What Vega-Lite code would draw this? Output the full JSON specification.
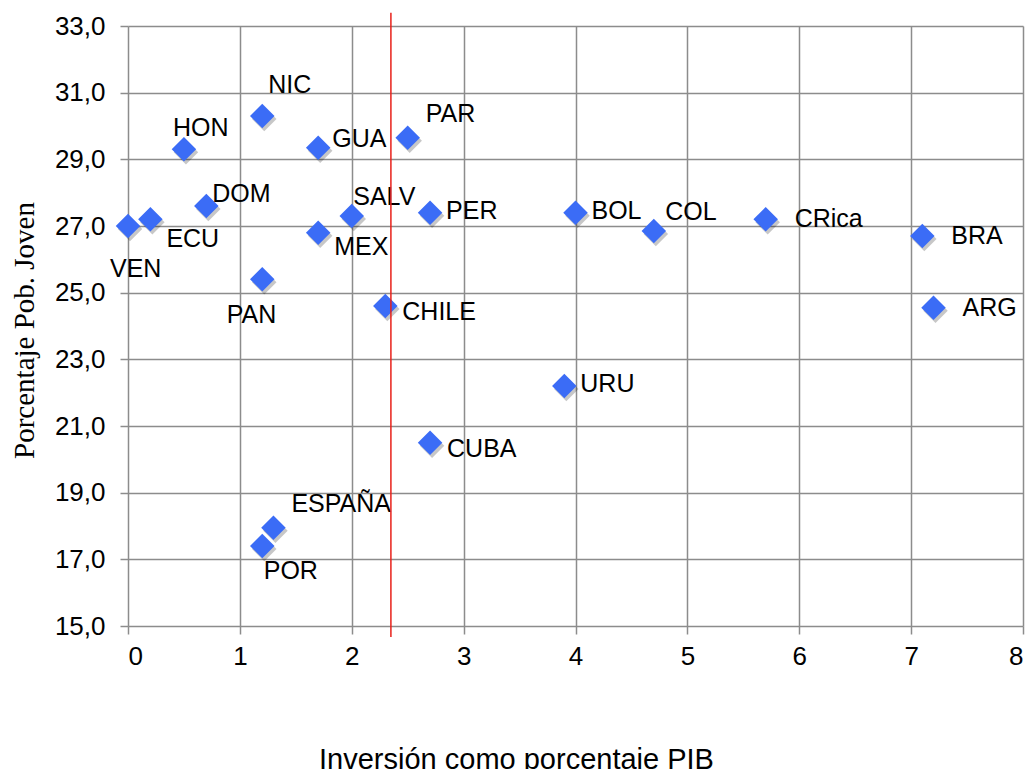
{
  "$schema": "https://vega.github.io/schema/vega-lite/v6.json",
  "width": 895,
  "height": 600,
  "autosize": {"type": "none"},
  "padding": {"left": 128, "top": 26, "right": 11, "bottom": 143},
  "background": "white",
  "config": {
    "view": {"stroke": null},
    "font": "Liberation Sans",
    "axis": {
      "gridColor": "#8c8c8c",
      "gridWidth": 1.5,
      "gridOpacity": 1,
      "domain": false,
      "tickColor": "#8c8c8c",
      "tickWidth": 1.5,
      "tickSize": 8,
      "labelFont": "Liberation Sans",
      "labelFontSize": 26,
      "labelColor": "#000000",
      "titleColor": "#000000",
      "titleFontWeight": "normal"
    }
  },
  "datasets": {
    "paises": [
      {"pais": "VEN", "inversion": 0.0, "joven": 27.0},
      {"pais": "ECU", "inversion": 0.2, "joven": 27.2},
      {"pais": "HON", "inversion": 0.5, "joven": 29.3},
      {"pais": "DOM", "inversion": 0.7, "joven": 27.6},
      {"pais": "NIC", "inversion": 1.2, "joven": 30.3},
      {"pais": "PAN", "inversion": 1.2, "joven": 25.4},
      {"pais": "GUA", "inversion": 1.7, "joven": 29.35},
      {"pais": "MEX", "inversion": 1.7, "joven": 26.8},
      {"pais": "SALV", "inversion": 2.0, "joven": 27.3},
      {"pais": "CHILE", "inversion": 2.3, "joven": 24.6},
      {"pais": "PAR", "inversion": 2.5, "joven": 29.65},
      {"pais": "PER", "inversion": 2.7, "joven": 27.4},
      {"pais": "BOL", "inversion": 4.0, "joven": 27.4},
      {"pais": "COL", "inversion": 4.7, "joven": 26.85},
      {"pais": "CRica", "inversion": 5.7, "joven": 27.2},
      {"pais": "BRA", "inversion": 7.1, "joven": 26.7},
      {"pais": "ARG", "inversion": 7.2, "joven": 24.55},
      {"pais": "URU", "inversion": 3.9, "joven": 22.2},
      {"pais": "CUBA", "inversion": 2.7, "joven": 20.5},
      {"pais": "ESPAÑA", "inversion": 1.3, "joven": 17.95},
      {"pais": "POR", "inversion": 1.2, "joven": 17.4}
    ],
    "referencia": [
      {"inversion": 2.35, "desde": 33.4, "hasta": 14.67}
    ]
  },
  "data": {"name": "paises"},
  "encoding": {
    "x": {
      "field": "inversion",
      "type": "quantitative",
      "scale": {"domain": [0, 8], "nice": false, "zero": false},
      "axis": {
        "values": [0, 1, 2, 3, 4, 5, 6, 7, 8],
        "title": "Inversión como porcentaje PIB",
        "titleFont": "Liberation Sans",
        "titleFontSize": 29,
        "titleX": 388,
        "titleY": 142,
        "titleAnchor": null,
        "titleAlign": "center",
        "titleBaseline": "alphabetic",
        "labelPadding": 9
      }
    },
    "y": {
      "field": "joven",
      "type": "quantitative",
      "scale": {"domain": [15, 33], "nice": false, "zero": false},
      "axis": {
        "values": [15, 17, 19, 21, 23, 25, 27, 29, 31, 33],
        "labelExpr": "replace(format(datum.value, '.1f'), '.', ',')",
        "labelPadding": 15,
        "title": "Porcentaje Pob. Joven",
        "titleFont": "Liberation Serif",
        "titleFontSize": 29,
        "titleX": -104,
        "titleY": 304,
        "titleAngle": -90,
        "titleAlign": "center",
        "titleBaseline": "middle"
      }
    }
  },
  "layer": [
    {
      "mark": {"type": "point", "shape": "diamond", "filled": true, "size": 600, "color": "#000000", "opacity": 0.22, "xOffset": 2, "yOffset": 3}
    },
    {
      "mark": {"type": "point", "shape": "diamond", "filled": true, "size": 600, "color": "#3b6cf6", "opacity": 1}
    },
    {
      "transform": [{"filter": {"field": "pais", "oneOf": ["PER", "BOL", "URU"]}}],
      "mark": {"type": "text", "align": "left", "baseline": "middle", "fontSize": 25, "color": "#000000", "dx": 16, "dy": -2},
      "encoding": {"text": {"field": "pais"}}
    },
    {
      "transform": [{"filter": {"field": "pais", "oneOf": ["CUBA", "CHILE"]}}],
      "mark": {"type": "text", "align": "left", "baseline": "middle", "fontSize": 25, "color": "#000000", "dx": 17, "dy": 6},
      "encoding": {"text": {"field": "pais"}}
    },
    {
      "transform": [{"filter": {"field": "pais", "oneOf": ["CRica", "BRA", "ARG"]}}],
      "mark": {"type": "text", "align": "left", "baseline": "middle", "fontSize": 25, "color": "#000000", "dx": 29, "dy": 0},
      "encoding": {"text": {"field": "pais"}}
    },
    {
      "transform": [{"filter": {"field": "pais", "oneOf": ["PAR", "ESPAÑA"]}}],
      "mark": {"type": "text", "align": "left", "baseline": "middle", "fontSize": 25, "color": "#000000", "dx": 18, "dy": -23.5},
      "encoding": {"text": {"field": "pais"}}
    },
    {
      "transform": [{"filter": {"field": "pais", "equal": "VEN"}}],
      "mark": {"type": "text", "align": "left", "baseline": "middle", "fontSize": 25, "color": "#000000", "dx": -18, "dy": 43},
      "encoding": {"text": {"field": "pais"}}
    },
    {
      "transform": [{"filter": {"field": "pais", "equal": "ECU"}}],
      "mark": {"type": "text", "align": "left", "baseline": "middle", "fontSize": 25, "color": "#000000", "dx": 16, "dy": 20},
      "encoding": {"text": {"field": "pais"}}
    },
    {
      "transform": [{"filter": {"field": "pais", "equal": "HON"}}],
      "mark": {"type": "text", "align": "left", "baseline": "middle", "fontSize": 25, "color": "#000000", "dx": -11, "dy": -21},
      "encoding": {"text": {"field": "pais"}}
    },
    {
      "transform": [{"filter": {"field": "pais", "equal": "DOM"}}],
      "mark": {"type": "text", "align": "left", "baseline": "middle", "fontSize": 25, "color": "#000000", "dx": 6, "dy": -12.5},
      "encoding": {"text": {"field": "pais"}}
    },
    {
      "transform": [{"filter": {"field": "pais", "equal": "NIC"}}],
      "mark": {"type": "text", "align": "left", "baseline": "middle", "fontSize": 25, "color": "#000000", "dx": 6, "dy": -31.5},
      "encoding": {"text": {"field": "pais"}}
    },
    {
      "transform": [{"filter": {"field": "pais", "equal": "PAN"}}],
      "mark": {"type": "text", "align": "left", "baseline": "middle", "fontSize": 25, "color": "#000000", "dx": -35.5, "dy": 35.5},
      "encoding": {"text": {"field": "pais"}}
    },
    {
      "transform": [{"filter": {"field": "pais", "equal": "GUA"}}],
      "mark": {"type": "text", "align": "left", "baseline": "middle", "fontSize": 25, "color": "#000000", "dx": 14, "dy": -9},
      "encoding": {"text": {"field": "pais"}}
    },
    {
      "transform": [{"filter": {"field": "pais", "equal": "MEX"}}],
      "mark": {"type": "text", "align": "left", "baseline": "middle", "fontSize": 25, "color": "#000000", "dx": 16, "dy": 14},
      "encoding": {"text": {"field": "pais"}}
    },
    {
      "transform": [{"filter": {"field": "pais", "equal": "SALV"}}],
      "mark": {"type": "text", "align": "left", "baseline": "middle", "fontSize": 25, "color": "#000000", "dx": 1.5, "dy": -19.5},
      "encoding": {"text": {"field": "pais"}}
    },
    {
      "transform": [{"filter": {"field": "pais", "equal": "COL"}}],
      "mark": {"type": "text", "align": "left", "baseline": "middle", "fontSize": 25, "color": "#000000", "dx": 11.5, "dy": -19},
      "encoding": {"text": {"field": "pais"}}
    },
    {
      "transform": [{"filter": {"field": "pais", "equal": "POR"}}],
      "mark": {"type": "text", "align": "left", "baseline": "middle", "fontSize": 25, "color": "#000000", "dx": 1.5, "dy": 24.5},
      "encoding": {"text": {"field": "pais"}}
    },
    {
      "data": {"name": "referencia"},
      "mark": {"type": "rule", "color": "#e8201a", "strokeWidth": 1.5, "clip": false},
      "encoding": {
        "x": {"field": "inversion", "type": "quantitative"},
        "y": {"field": "desde", "type": "quantitative"},
        "y2": {"field": "hasta"}
      }
    }
  ]
}
